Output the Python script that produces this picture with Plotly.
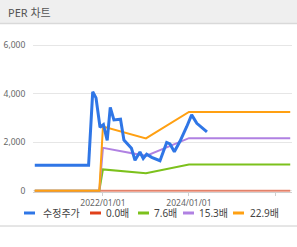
import plotly.graph_objects as go

# ---------------- data ----------------
price_dates = ["2020-06-01", "2021-09-01", "2021-10-06", "2021-11-03", "2021-12-07",
               "2022-01-05", "2022-02-06", "2022-03-04", "2022-04-04", "2022-05-30",
               "2022-06-28", "2022-08-10", "2022-08-31", "2022-09-30", "2022-11-11",
               "2022-12-09", "2023-01-07", "2023-02-19", "2023-04-30", "2023-06-26",
               "2023-07-24", "2023-08-30", "2023-10-17", "2023-12-13", "2024-01-24",
               "2024-03-08", "2024-06-02"]
price = [1050, 1050, 4080, 3830, 2620, 2730, 2080, 3440, 2920, 2950,
         2090, 1880, 1750, 1260, 1600, 1330, 1510, 1380, 1240, 1990,
         1930, 1610, 2040, 2640, 3130, 2780, 2430]

per_dates = ["2020-06-01", "2021-12-01", "2022-01-01", "2023-01-01", "2024-01-01", "2026-05-10"]
per_0_0 = [0, 0, 0, 0, 0, 0]
per_7_6 = [0, 0, 880, 720, 1080, 1080]
per_15_3 = [0, 0, 1770, 1440, 2170, 2170]
per_22_9 = [0, 0, 2650, 2160, 3250, 3250]

series_names = ["수정주가", "0.0배", "7.6배", "15.3배", "22.9배"]
series_colors = ["#2f76e6", "#e0401a", "#7cc11c", "#b081e2", "#ffa012"]

x_ticks = ["2022-01-01", "2024-01-01", "2026-01-01"]
x_tick_text = ["2022/01/01", "2024/01/01", "2026/01/01"]
y_ticks = [0, 2000, 4000, 6000]

# ---------------- layout geometry ----------------
W, H = 297, 247
ML, MR, MT, MB = 33, 5, 44, 55
PW, PH = W - ML - MR, H - MT - MB


def pxx(x):
    return (x - ML) / PW


def pyy(y):
    return (H - MB - y) / PH


FONT = "Noto Sans, Noto Sans CJK KR, sans-serif"

fig = go.Figure()

per_series = [per_0_0, per_7_6, per_15_3, per_22_9]
for i, vals in enumerate(per_series):
    fig.add_trace(go.Scatter(
        x=per_dates, y=vals, mode="lines", name=series_names[i + 1],
        line=dict(color=series_colors[i + 1], width=2),
        opacity=0.6 if i == 0 else 1.0,
        showlegend=False, hoverinfo="skip"))

fig.add_trace(go.Scatter(
    x=price_dates, y=price, mode="lines", name=series_names[0],
    line=dict(color=series_colors[0], width=3),
    showlegend=False))

shapes = []
annotations = []

# header band
shapes.append(dict(type="rect", xref="paper", yref="paper",
                   x0=pxx(-2), x1=pxx(W + 2), y0=pyy(23), y1=pyy(-2),
                   fillcolor="#efefef", line=dict(width=0), layer="below"))
shapes.append(dict(type="line", xref="paper", yref="paper",
                   x0=pxx(0), x1=pxx(W), y0=pyy(23.5), y1=pyy(23.5),
                   line=dict(color="#d9d9d9", width=1.5)))
annotations.append(dict(text="PER 차트", xref="paper", yref="paper",
                        x=pxx(6), y=pyy(12), xanchor="left", yanchor="middle",
                        showarrow=False, font=dict(family=FONT, size=11, color="#555555")))

# bottom border
shapes.append(dict(type="line", xref="paper", yref="paper",
                   x0=pxx(0), x1=pxx(W), y0=pyy(226), y1=pyy(226),
                   line=dict(color="#cccccc", width=1)))

# custom legend
legend_items = [(24, 41), (90, 104), (138, 152), (183, 197), (233, 248)]
LY = 213
for (lx, tx), name, col in zip(legend_items, series_names, series_colors):
    shapes.append(dict(type="line", xref="paper", yref="paper",
                       x0=pxx(lx), x1=pxx(lx + 11), y0=pyy(LY), y1=pyy(LY),
                       line=dict(color=col, width=3)))
    annotations.append(dict(text=name, xref="paper", yref="paper",
                            x=pxx(tx), y=pyy(LY), xanchor="left", yanchor="middle",
                            showarrow=False,
                            font=dict(family=FONT, size=10, color="#444444")))

fig.update_layout(
    width=W, height=H,
    margin=dict(l=ML, r=MR, t=MT, b=MB, autoexpand=False),
    paper_bgcolor="white", plot_bgcolor="white",
    showlegend=False,
    shapes=shapes, annotations=annotations,
    xaxis=dict(
        type="date", range=["2020-05-17", "2026-05-25"],
        tickvals=x_ticks, ticktext=x_tick_text,
        showgrid=False, zeroline=False,
        showline=True, linecolor="#d0d0d0", linewidth=1,
        ticks="outside", ticklen=3, tickcolor="#d0d0d0",
        tickfont=dict(family=FONT, size=8.5, color="#666666"),
    ),
    yaxis=dict(
        range=[-50, 6050], tickvals=y_ticks, tickformat=",",
        showgrid=True, gridcolor="#e6e6e6", gridwidth=1,
        zeroline=False, showline=False,
        ticks="outside", ticklen=5, tickcolor="rgba(0,0,0,0)",
        tickfont=dict(family=FONT, size=8.5, color="#666666"),
    ),
)

fig.write_html("out.html")
